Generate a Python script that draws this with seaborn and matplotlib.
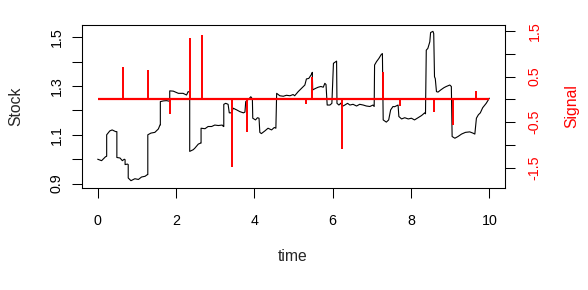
import numpy as np
import pandas as pd
import matplotlib
matplotlib.use("Agg")
import matplotlib.pyplot as plt
import seaborn as sns

# stock path (time, value)
stock_time = [
    0.00, 0.10, 0.20, 0.23, 0.23, 0.31, 0.37, 0.46, 0.49, 0.49, 0.57, 0.63, 0.68, 0.70, 0.70,
    0.76, 0.78, 0.78, 0.85, 0.95, 1.04, 1.12, 1.21, 1.27, 1.28, 1.28, 1.36, 1.46, 1.55, 1.59,
    1.60, 1.60, 1.68, 1.76, 1.82, 1.84, 1.84, 1.93, 2.06, 2.18, 2.27, 2.31, 2.35, 2.35, 2.44,
    2.48, 2.57, 2.63, 2.64, 2.64, 2.74, 2.82, 2.91, 2.99, 3.08, 3.18, 3.21, 3.22, 3.22, 3.27,
    3.33, 3.36, 3.42, 3.46, 3.55, 3.63, 3.72, 3.76, 3.78, 3.86, 3.91, 3.95, 3.96, 4.03, 4.08,
    4.12, 4.14, 4.18, 4.27, 4.35, 4.44, 4.51, 4.55, 4.57, 4.65, 4.74, 4.82, 4.91, 4.99, 5.03,
    5.12, 5.20, 5.29, 5.33, 5.39, 5.46, 5.48, 5.49, 5.56, 5.63, 5.70, 5.76, 5.80, 5.83, 5.86,
    5.93, 5.98, 6.02, 6.10, 6.11, 6.16, 6.21, 6.24, 6.31, 6.38, 6.44, 6.52, 6.61, 6.69, 6.78,
    6.86, 6.95, 7.03, 7.06, 7.07, 7.12, 7.18, 7.24, 7.27, 7.29, 7.37, 7.43, 7.48, 7.54, 7.58,
    7.67, 7.69, 7.76, 7.84, 7.93, 8.01, 8.09, 8.18, 8.27, 8.35, 8.37, 8.39, 8.43, 8.48, 8.50,
    8.56, 8.58, 8.60, 8.62, 8.65, 8.69, 8.76, 8.84, 8.90, 8.99, 9.03, 9.05, 9.12, 9.20, 9.29,
    9.39, 9.50, 9.58, 9.63, 9.67, 9.72, 9.77, 9.83, 9.92, 10.00,
]
stock_value = [
    1.000, 0.994, 1.010, 1.012, 1.100, 1.116, 1.120, 1.113, 1.113, 1.007, 1.005, 0.994, 1.000, 0.998, 0.978,
    0.980, 0.978, 0.923, 0.912, 0.920, 0.917, 0.927, 0.930, 0.937, 0.937, 1.100, 1.107, 1.110, 1.124, 1.140,
    1.140, 1.236, 1.239, 1.240, 1.238, 1.238, 1.280, 1.279, 1.270, 1.270, 1.263, 1.277, 1.275, 1.032, 1.039,
    1.045, 1.062, 1.066, 1.066, 1.127, 1.125, 1.134, 1.134, 1.140, 1.138, 1.140, 1.134, 1.134, 1.225, 1.229,
    1.225, 1.190, 1.190, 1.209, 1.202, 1.195, 1.190, 1.193, 1.236, 1.247, 1.256, 1.247, 1.168, 1.161, 1.170,
    1.168, 1.110, 1.105, 1.116, 1.127, 1.120, 1.130, 1.127, 1.270, 1.260, 1.258, 1.262, 1.260, 1.265, 1.260,
    1.277, 1.290, 1.304, 1.329, 1.331, 1.348, 1.356, 1.284, 1.290, 1.295, 1.298, 1.295, 1.311, 1.306, 1.222,
    1.222, 1.229, 1.393, 1.402, 1.229, 1.222, 1.230, 1.216, 1.222, 1.229, 1.222, 1.225, 1.218, 1.225, 1.222,
    1.218, 1.216, 1.222, 1.216, 1.386, 1.400, 1.413, 1.429, 1.433, 1.161, 1.152, 1.161, 1.202, 1.216, 1.215,
    1.222, 1.175, 1.165, 1.170, 1.165, 1.168, 1.161, 1.170, 1.179, 1.190, 1.186, 1.447, 1.454, 1.481, 1.519,
    1.524, 1.515, 1.338, 1.330, 1.277, 1.275, 1.284, 1.293, 1.298, 1.304, 1.298, 1.093, 1.086, 1.093, 1.103,
    1.110, 1.112, 1.107, 1.103, 1.168, 1.182, 1.190, 1.211, 1.229, 1.250,
]

# signal spikes (time, value); zero elsewhere
signal_time = [0.655, 1.28, 1.85, 2.36, 2.66, 3.43, 3.81, 5.31, 5.48, 6.24, 7.29, 7.72, 8.60, 9.06, 9.66]
signal_value = [0.705, 0.646, -0.317, 1.34, 1.42, -1.47, -0.705, -0.105, 0.486, -1.08, 0.61, -0.135, -0.28, -0.565, 0.19]

x_ticks = [0, 2, 4, 6, 8, 10]
stock_ticks = [0.9, 1.0, 1.1, 1.2, 1.3, 1.4, 1.5]
stock_labels = ["0.9", "", "1.1", "", "1.3", "", "1.5"]
signal_ticks = [-1.5, -1.0, -0.5, 0.0, 0.5, 1.0, 1.5]
signal_labels = ["-1.5", "", "-0.5", "", "0.5", "", "1.5"]

sns.set_theme(style="ticks")
plt.rcParams["font.family"] = ["Liberation Sans", "DejaVu Sans"]
plt.rcParams["axes.unicode_minus"] = False

TICK_FS = 10.3
LAB_FS = 11.3
fig = plt.figure(figsize=(5.88, 2.90), dpi=100)
ax = fig.add_axes([82 / 588, 1 - 188 / 290, 423 / 588, 163 / 290])

df = pd.DataFrame({"time": stock_time, "Stock": stock_value})
sns.lineplot(data=df, x="time", y="Stock", ax=ax, color="black", linewidth=0.8,
             estimator=None, sort=False)

ax.set_xlim(-0.4, 10.4)
ax.set_ylim(0.882, 1.550)
ax.set_xticks(x_ticks)
ax.set_xticklabels([str(t) for t in x_ticks], fontsize=TICK_FS)
ax.set_yticks(stock_ticks)
ax.set_yticklabels(stock_labels, fontsize=TICK_FS)
for lab in ax.get_yticklabels():
    lab.set_rotation(90)
    lab.set_va("center")
    lab.set_ha("right")
ax.tick_params(axis="both", length=7.2, width=0.75, color="black", labelcolor="black")
ax.tick_params(axis="x", pad=11.5)
ax.tick_params(axis="y", pad=6)

ax.set_xlabel("time", fontsize=LAB_FS)
ax.set_ylabel("Stock", fontsize=LAB_FS)
ax.xaxis.set_label_coords(0.499, -0.423)
ax.xaxis.label.set_va("center")
ax.yaxis.set_label_coords(-0.156, 0.5)
ax.yaxis.label.set_va("center")

for sp in ax.spines.values():
    sp.set_color("black")
    sp.set_linewidth(0.75)

ax2 = ax.twinx()
ax2.hlines(0, 0, 10, color="#FF0000", linewidth=1.6)
ax2.vlines(signal_time, 0, signal_value, color="#FF0000", linewidth=1.4)
ax2.set_ylim(-1.94, 1.63)
ax2.set_yticks(signal_ticks)
ax2.set_yticklabels(signal_labels, fontsize=TICK_FS)
for lab in ax2.get_yticklabels():
    lab.set_rotation(90)
    lab.set_va("center")
    lab.set_ha("left")
ax2.tick_params(axis="y", length=7.2, width=0.75, color="black", labelcolor="#FF0000", pad=9)
ax2.set_ylabel("Signal", fontsize=LAB_FS, color="#FF0000")
ax2.yaxis.set_label_coords(1.158, 0.5)
ax2.yaxis.label.set_va("center")
for sp in ax2.spines.values():
    sp.set_color("black")
    sp.set_linewidth(0.75)

fig.savefig("out.png", dpi=100)
